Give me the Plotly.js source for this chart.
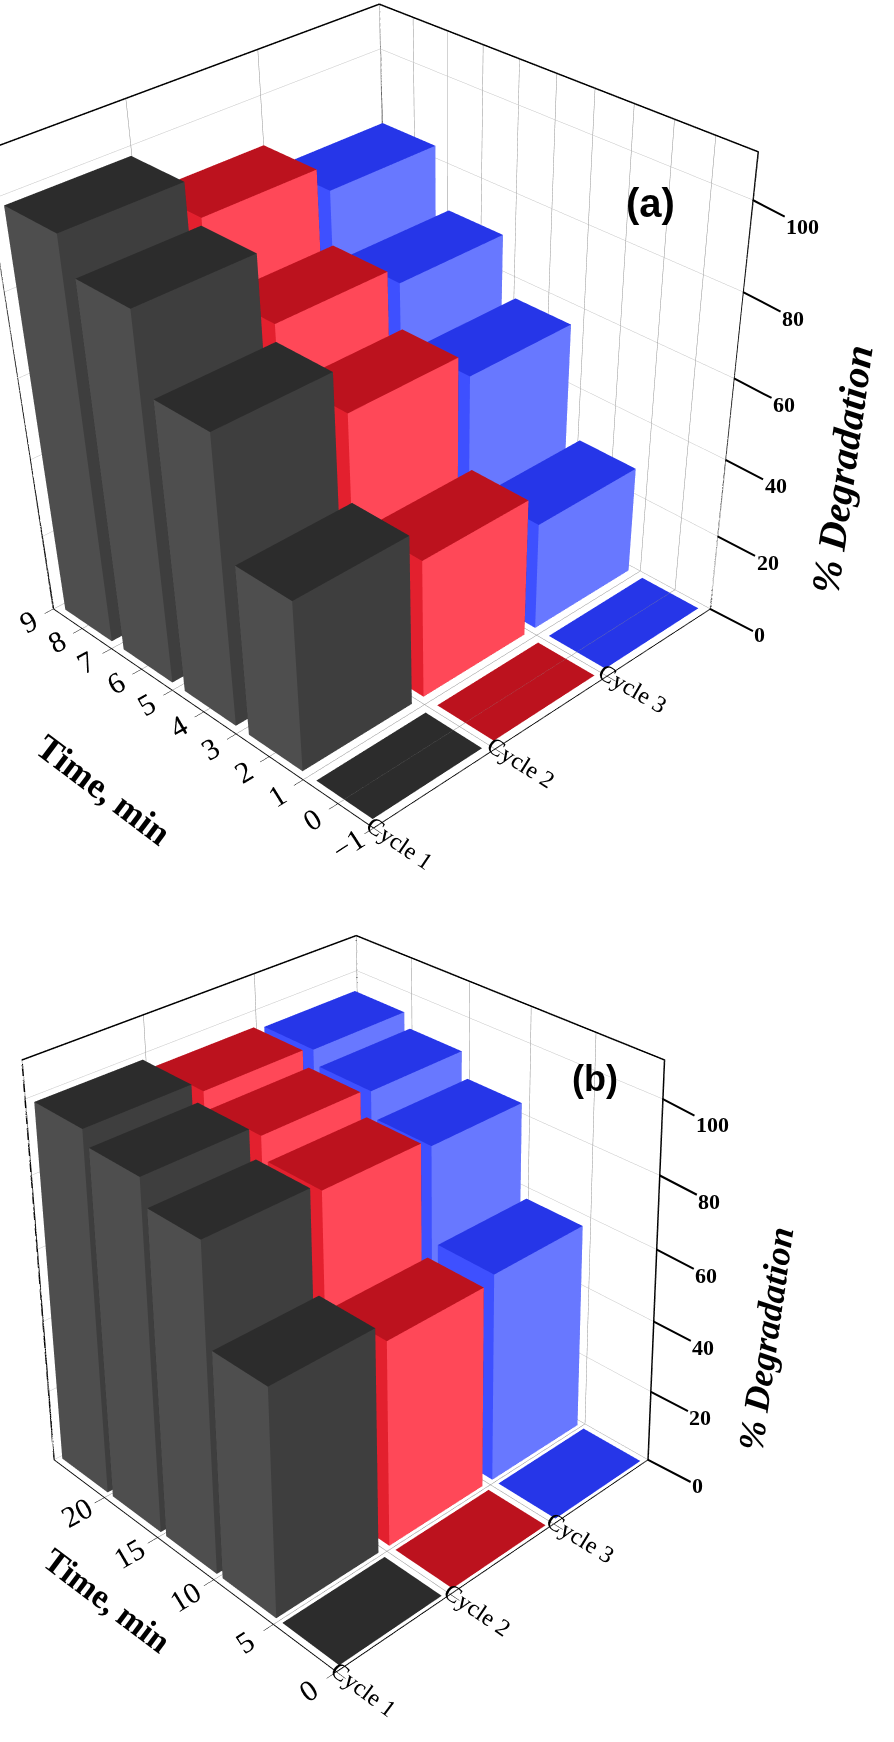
<!DOCTYPE html>
<html>
<head>
<meta charset="utf-8">
<script src="https://cdn.plot.ly/plotly-3.0.1.min.js"></script>
<style>
  html, body { margin: 0; padding: 0; background: #ffffff; }
  #chart { width: 894px; height: 1742px; }
  #info { position: absolute; left: 0; top: 0; font: 14px sans-serif; color: #c00; white-space: pre-wrap; z-index: 10; }
</style>
</head>
<body>
<div id="info"></div>
<div id="chart"></div>
<script>
const info = document.getElementById('info');
window.addEventListener('error', e => { info.textContent += 'error: ' + e.message + '\n'; });

// ---------- data ----------
const cycles = ['Cycle 1', 'Cycle 2', 'Cycle 3'];

// panel (a)
const timeA = [0, 2, 4, 6, 8];
const a_cycle1 = [0, 44, 73, 91, 99];
const a_cycle2 = [0, 36, 62, 74, 90];
const a_cycle3 = [0, 28, 56, 70, 84];
const timeTicksA = [-1, 0, 1, 2, 3, 4, 5, 6, 7, 8, 9];

// panel (b)
const timeB = [0, 5, 10, 15, 20];
const b_cycle1 = [0, 61, 88, 95, 99];
const b_cycle2 = [0, 56, 86, 92, 96];
const b_cycle3 = [0, 58, 84, 91, 95];
const timeTicksB = [0, 5, 10, 15, 20];

const degTicks = [0, 20, 40, 60, 80, 100];

// ---------- styles ----------
const palette = [
  { top: '#2c2c2c', xm: '#4e4e4e', ym: '#3e3e3e', other: '#353535' },
  { top: '#bc121e', xm: '#e3202e', ym: '#ff4858', other: '#d01828' },
  { top: '#2636e8', xm: '#3e50ff', ym: '#6878ff', other: '#3444f0' }
];
const serif = 'Liberation Serif';

function barMesh(times, vals, cycleIndex, timeOffset, timeWidth, style, sceneId) {
  const X = [], Y = [], Z = [], I = [], J = [], K = [], FC = [];
  const cx = cycleIndex + 1;
  const hw = 0.45;
  const ht = timeWidth / 2;
  times.forEach((t, n) => {
    const x0 = cx - hw, x1 = cx + hw;
    const y0 = t + timeOffset - ht, y1 = t + timeOffset + ht;
    const z0 = 0, z1 = vals[n];
    const b = X.length;
    const pts = [[x0,y0,z0],[x1,y0,z0],[x1,y1,z0],[x0,y1,z0],
                 [x0,y0,z1],[x1,y0,z1],[x1,y1,z1],[x0,y1,z1]];
    pts.forEach(p => { X.push(p[0]); Y.push(p[1]); Z.push(p[2]); });
    const faces = [
      [[0,1,2],[0,2,3], style.other],
      [[4,5,6],[4,6,7], style.top],
      [[0,1,5],[0,5,4], style.ym],
      [[3,2,6],[3,6,7], style.other],
      [[0,3,7],[0,7,4], style.xm],
      [[1,2,6],[1,6,5], style.other]
    ];
    faces.forEach(f => {
      [f[0], f[1]].forEach(tri => {
        I.push(b + tri[0]); J.push(b + tri[1]); K.push(b + tri[2]); FC.push(f[2]);
      });
    });
  });
  return {
    type: 'mesh3d', scene: sceneId,
    x: X, y: Y, z: Z, i: I, j: J, k: K,
    facecolor: FC, flatshading: true,
    lighting: { ambient: 1, diffuse: 0, specular: 0, roughness: 1, fresnel: 0 },
    hoverinfo: 'skip'
  };
}

// outline of the back walls + z axis line at the right corner (from the axis ranges)
function wallFrame(xr, yr, zr, sceneId) {
  return {
    type: 'scatter3d', mode: 'lines', scene: sceneId,
    x: [xr[0], xr[0], xr[1], xr[1], xr[1], null, xr[1], xr[1]],
    y: [yr[1], yr[1], yr[1], yr[0], yr[0], null, yr[1], yr[1]],
    z: [zr[0], zr[1], zr[1], zr[1], zr[0], null, zr[1], zr[0]],
    line: { color: '#000000', width: 3 }, hoverinfo: 'skip'
  };
}

const xRange = [0.5, 3.5], zRange = [0, 110];
const yRangeA = [-1, 9], yRangeB = [0, 25];

const traces = [];
[a_cycle1, a_cycle2, a_cycle3].forEach((v, c) =>
  traces.push(barMesh(timeA, v, c, 0, 1.6, palette[c], 'scene')));
traces.push(wallFrame(xRange, yRangeA, zRange, 'scene'));
[b_cycle1, b_cycle2, b_cycle3].forEach((v, c) =>
  traces.push(barMesh(timeB, v, c, 2.5, 4.5, palette[c], 'scene2')));
traces.push(wallFrame(xRange, yRangeB, zRange, 'scene2'));

// z tick labels (with short tick lines) at the right corner, plus axis titles
function sceneAnnotations(yr, timeShift, degShift, titleSize, degSize) {
  const span = yr[1] - yr[0];
  const ax = xRange[1] - 0.001, ay = yr[0] + 0.001 * span;
  const ann = degTicks.map(z => ({
    x: ax, y: ay, z: z, text: String(z),
    showarrow: true, arrowhead: 0, arrowwidth: 2, arrowcolor: '#000000',
    ax: 50, ay: 26, standoff: 0,
    font: { family: serif, size: 22, color: '#000000', weight: 'bold' }
  }));
  ann.push({
    x: ax, y: ay, z: 55, text: '% Degradation', showarrow: false,
    xshift: degShift[0], yshift: degShift[1], textangle: -82,
    font: { family: serif, size: degSize, color: '#000000', weight: 'bold', style: 'italic' }
  });
  ann.push({
    x: xRange[0] + 0.001, y: (yr[0] + yr[1]) / 2, z: 0, text: 'Time, min', showarrow: false,
    xshift: timeShift[0], yshift: timeShift[1], textangle: 37,
    font: { family: serif, size: titleSize, color: '#000000', weight: 'bold' }
  });
  return ann;
}

function sceneLayout(timeRange, timeTicks, aspectZ, eye, center, ann) {
  return {
    domain: { x: [0, 1], y: [0, 1] },
    aspectmode: 'manual',
    aspectratio: { x: 1, y: 1, z: aspectZ },
    camera: { eye: eye, up: { x: 0, y: 0, z: 1 }, center: center },
    bgcolor: 'rgba(0,0,0,0)',
    annotations: ann,
    xaxis: {
      range: xRange, tickvals: [0.5, 1.5, 2.5, 3.5], ticktext: cycles.concat(['']),
      title: { text: '' },
      tickfont: { family: serif, size: 17, color: '#000000' },
      showgrid: true, gridcolor: '#8c8c8c', gridwidth: 1,
      showline: true, linecolor: '#000000', linewidth: 2,
      ticks: 'outside', ticklen: 10, tickcolor: '#000000',
      zeroline: false, showbackground: false, showspikes: false
    },
    yaxis: {
      range: timeRange, tickvals: timeTicks,
      title: { text: '' },
      tickfont: { family: serif, size: 19, color: '#000000' },
      showgrid: true, gridcolor: '#8c8c8c', gridwidth: 1,
      showline: true, linecolor: '#000000', linewidth: 2,
      ticks: 'outside', ticklen: 10, tickcolor: '#000000',
      zeroline: false, showbackground: false, showspikes: false
    },
    zaxis: {
      range: zRange, tickvals: degTicks,
      title: { text: '' },
      showticklabels: false, ticks: '',
      showgrid: true, gridcolor: '#c4c4c4', gridwidth: 1,
      showline: false,
      zeroline: false, showbackground: false, showspikes: false
    }
  };
}

const layout = {
  width: 894, height: 1742,
  margin: { l: 0, r: 0, t: 0, b: 0 },
  paper_bgcolor: '#ffffff',
  showlegend: false,
  scene: sceneLayout(yRangeA, timeTicksA, 1.02,
    { x: -2.514, y: -2.712, z: 2.164 }, { x: -0.445, y: -0.643, z: -0.564 },
    sceneAnnotations(yRangeA, [-100, -78], [110, -70], 36, 40)),
  scene2: sceneLayout(yRangeB, timeTicksB, 1.056,
    { x: -2.788, y: -3.111, z: 2.575 }, { x: -0.147, y: -0.470, z: 1.141 },
    sceneAnnotations(yRangeB, [-78, -42], [110, -71], 34, 36)),
  annotations: [
    { text: '(a)', x: 0.757, y: 0.897, xref: 'paper', yref: 'paper', showarrow: false,
      font: { family: 'Liberation Sans', size: 40, color: '#000000', weight: 'bold' } },
    { text: '(b)', x: 0.694, y: 0.381, xref: 'paper', yref: 'paper', showarrow: false,
      font: { family: 'Liberation Sans', size: 36, color: '#000000', weight: 'bold' } }
  ]
};

try {
  Plotly.newPlot('chart', traces, layout, { displayModeBar: false })
    .catch(e => { info.textContent += 'plot err: ' + e + '\n'; });
} catch (e) { info.textContent += 'sync err: ' + e + '\n' + (e.stack || ''); }
</script>
</body>
</html>
